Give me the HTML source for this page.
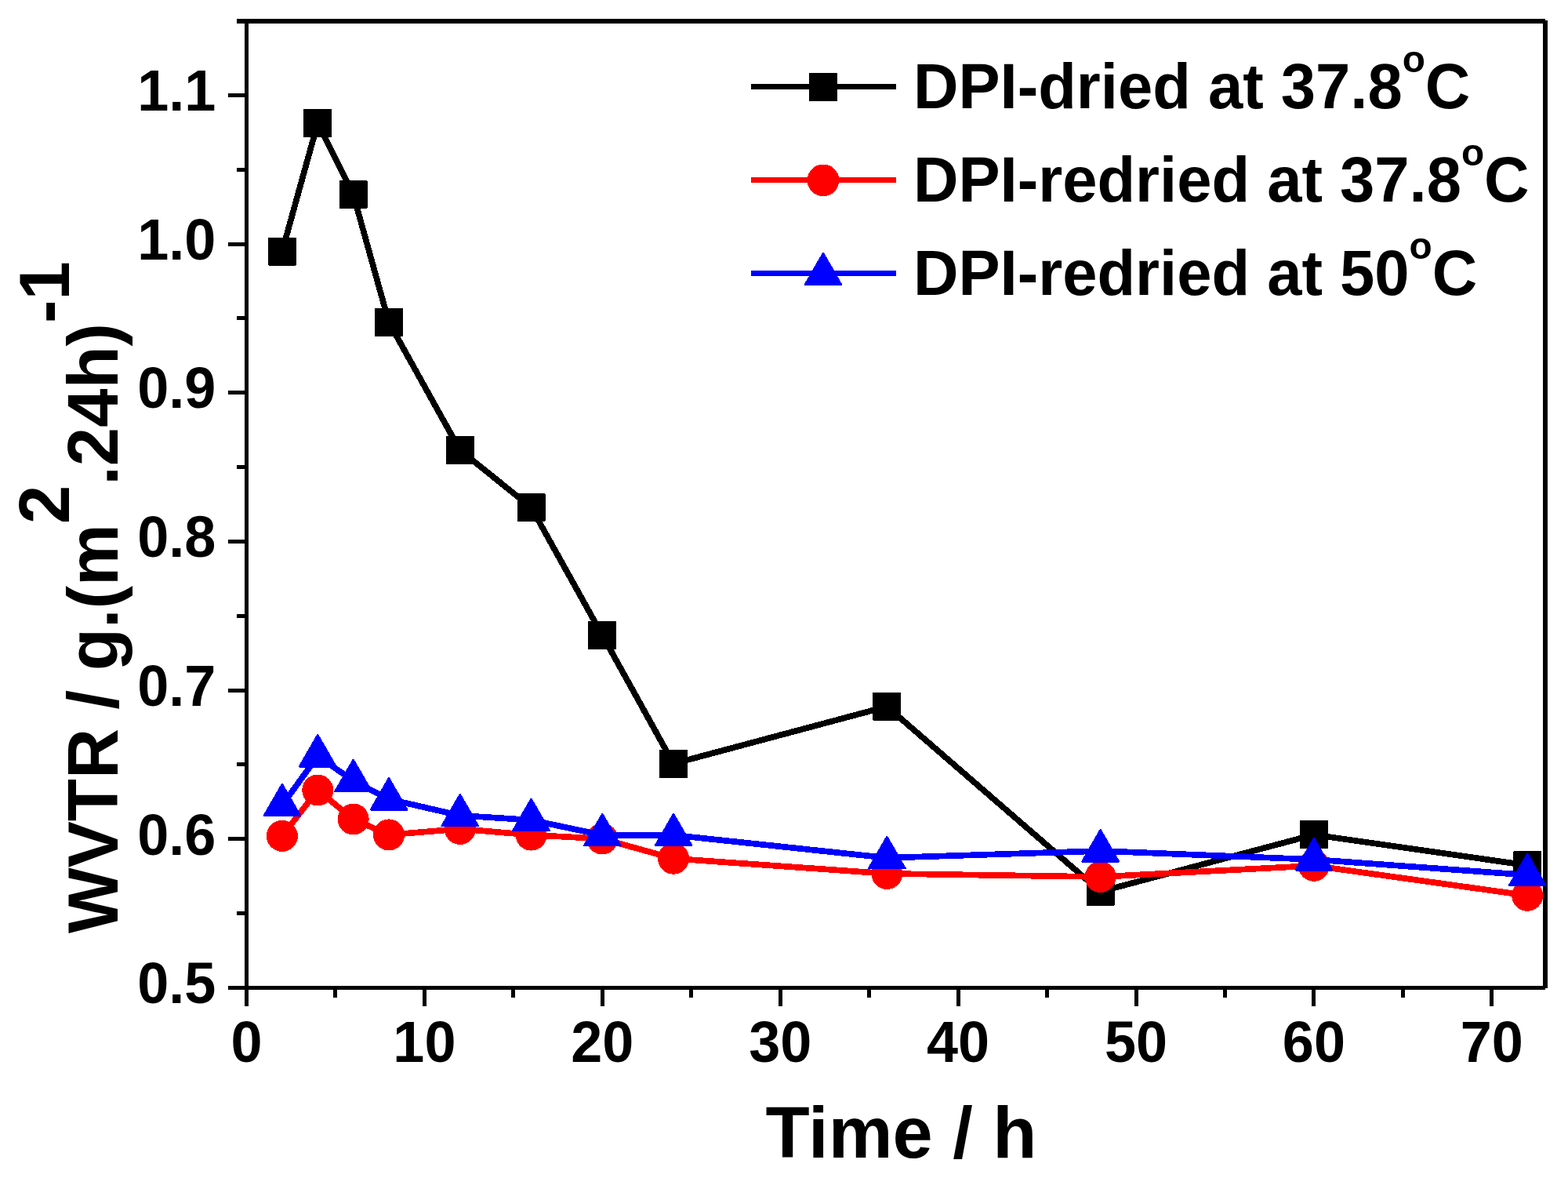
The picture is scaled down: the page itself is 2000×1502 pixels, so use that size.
<!DOCTYPE html>
<html><head><meta charset="utf-8"><title>WVTR vs Time</title>
<style>html,body{margin:0;padding:0;background:#fff;width:2000px;height:1502px;overflow:hidden}svg{display:block}</style>
</head><body><svg width="2000" height="1502" viewBox="0 0 2000 1502" shape-rendering="crispEdges"><rect width="2000" height="1502" fill="#fff"/><g fill="#000"><rect x="312" y="24" width="5" height="1259"/><rect x="302" y="24" width="1669" height="6"/><rect x="1968" y="26" width="6" height="1234"/><rect x="291" y="1257" width="1680" height="5"/><rect x="291" y="1257.00" width="21" height="5"/><rect x="302" y="1162.16" width="10" height="5"/><rect x="291" y="1067.32" width="21" height="5"/><rect x="302" y="972.48" width="10" height="5"/><rect x="291" y="877.64" width="21" height="5"/><rect x="302" y="782.80" width="10" height="5"/><rect x="291" y="687.96" width="21" height="5"/><rect x="302" y="593.12" width="10" height="5"/><rect x="291" y="498.28" width="21" height="5"/><rect x="302" y="403.44" width="10" height="5"/><rect x="291" y="308.60" width="21" height="5"/><rect x="302" y="213.76" width="10" height="5"/><rect x="291" y="118.92" width="21" height="5"/><rect x="312.00" y="1262" width="5" height="21"/><rect x="425.45" y="1262" width="5" height="10"/><rect x="538.90" y="1262" width="5" height="21"/><rect x="652.35" y="1262" width="5" height="10"/><rect x="765.80" y="1262" width="5" height="21"/><rect x="879.25" y="1262" width="5" height="10"/><rect x="992.70" y="1262" width="5" height="21"/><rect x="1106.15" y="1262" width="5" height="10"/><rect x="1219.60" y="1262" width="5" height="21"/><rect x="1333.05" y="1262" width="5" height="10"/><rect x="1446.50" y="1262" width="5" height="21"/><rect x="1559.95" y="1262" width="5" height="10"/><rect x="1673.40" y="1262" width="5" height="21"/><rect x="1786.85" y="1262" width="5" height="10"/><rect x="1900.30" y="1262" width="5" height="21"/></g><text transform="translate(275.30,1279.20) scale(1,1.036)" font-family="Liberation Sans, Arial, sans-serif" font-weight="bold" font-size="72" text-anchor="end">0.5</text><text transform="translate(275.30,1089.52) scale(1,1.036)" font-family="Liberation Sans, Arial, sans-serif" font-weight="bold" font-size="72" text-anchor="end">0.6</text><text transform="translate(275.30,899.84) scale(1,1.036)" font-family="Liberation Sans, Arial, sans-serif" font-weight="bold" font-size="72" text-anchor="end">0.7</text><text transform="translate(275.30,710.16) scale(1,1.036)" font-family="Liberation Sans, Arial, sans-serif" font-weight="bold" font-size="72" text-anchor="end">0.8</text><text transform="translate(275.30,520.48) scale(1,1.036)" font-family="Liberation Sans, Arial, sans-serif" font-weight="bold" font-size="72" text-anchor="end">0.9</text><text transform="translate(275.30,330.80) scale(1,1.036)" font-family="Liberation Sans, Arial, sans-serif" font-weight="bold" font-size="72" text-anchor="end">1.0</text><text transform="translate(275.30,141.12) scale(1,1.036)" font-family="Liberation Sans, Arial, sans-serif" font-weight="bold" font-size="72" text-anchor="end">1.1</text><text transform="translate(314.50,1354.40) scale(1,1.036)" font-family="Liberation Sans, Arial, sans-serif" font-weight="bold" font-size="72" text-anchor="middle">0</text><text transform="translate(541.40,1354.40) scale(1,1.036)" font-family="Liberation Sans, Arial, sans-serif" font-weight="bold" font-size="72" text-anchor="middle">10</text><text transform="translate(768.30,1354.40) scale(1,1.036)" font-family="Liberation Sans, Arial, sans-serif" font-weight="bold" font-size="72" text-anchor="middle">20</text><text transform="translate(995.20,1354.40) scale(1,1.036)" font-family="Liberation Sans, Arial, sans-serif" font-weight="bold" font-size="72" text-anchor="middle">30</text><text transform="translate(1222.10,1354.40) scale(1,1.036)" font-family="Liberation Sans, Arial, sans-serif" font-weight="bold" font-size="72" text-anchor="middle">40</text><text transform="translate(1449.00,1354.40) scale(1,1.036)" font-family="Liberation Sans, Arial, sans-serif" font-weight="bold" font-size="72" text-anchor="middle">50</text><text transform="translate(1675.90,1354.40) scale(1,1.036)" font-family="Liberation Sans, Arial, sans-serif" font-weight="bold" font-size="72" text-anchor="middle">60</text><text transform="translate(1902.80,1354.40) scale(1,1.036)" font-family="Liberation Sans, Arial, sans-serif" font-weight="bold" font-size="72" text-anchor="middle">70</text><text transform="translate(976.57,1475.90) scale(1,1.0)" font-family="Liberation Sans, Arial, sans-serif" font-weight="bold" font-size="92">Time / h</text><text transform="translate(149.9,1190) rotate(-90) scale(0.996,1.015)" font-family="Liberation Sans, Arial, sans-serif" font-weight="bold" font-size="89">WVTR / g.(m<tspan dy="-61.18">2</tspan><tspan dy="61.18">.24h)</tspan><tspan dy="-61.18">-1</tspan></text><polyline points="359.88,320.50 405.26,156.80 450.64,248.00 496.02,411.00 586.78,574.00 677.54,647.00 768.30,810.00 859.06,973.70 1131.34,900.90 1403.62,1136.80 1675.90,1064.30 1948.18,1103.30" fill="none" stroke="#000" stroke-width="7.7" stroke-linejoin="round"/><rect x="342.88" y="303.50" width="34.00" height="34.00" fill="#000" stroke="#000" stroke-width="2" stroke-linejoin="round"/><rect x="388.26" y="139.80" width="34.00" height="34.00" fill="#000" stroke="#000" stroke-width="2" stroke-linejoin="round"/><rect x="433.64" y="231.00" width="34.00" height="34.00" fill="#000" stroke="#000" stroke-width="2" stroke-linejoin="round"/><rect x="479.02" y="394.00" width="34.00" height="34.00" fill="#000" stroke="#000" stroke-width="2" stroke-linejoin="round"/><rect x="569.78" y="557.00" width="34.00" height="34.00" fill="#000" stroke="#000" stroke-width="2" stroke-linejoin="round"/><rect x="660.54" y="630.00" width="34.00" height="34.00" fill="#000" stroke="#000" stroke-width="2" stroke-linejoin="round"/><rect x="751.30" y="793.00" width="34.00" height="34.00" fill="#000" stroke="#000" stroke-width="2" stroke-linejoin="round"/><rect x="842.06" y="956.70" width="34.00" height="34.00" fill="#000" stroke="#000" stroke-width="2" stroke-linejoin="round"/><rect x="1114.34" y="883.90" width="34.00" height="34.00" fill="#000" stroke="#000" stroke-width="2" stroke-linejoin="round"/><rect x="1386.62" y="1119.80" width="34.00" height="34.00" fill="#000" stroke="#000" stroke-width="2" stroke-linejoin="round"/><rect x="1658.90" y="1047.30" width="34.00" height="34.00" fill="#000" stroke="#000" stroke-width="2" stroke-linejoin="round"/><rect x="1931.18" y="1086.30" width="34.00" height="34.00" fill="#000" stroke="#000" stroke-width="2" stroke-linejoin="round"/><polyline points="359.88,1065.90 405.26,1007.50 450.64,1044.50 496.02,1064.40 586.78,1056.90 677.54,1064.60 768.30,1069.50 859.06,1094.70 1131.34,1113.90 1403.62,1118.00 1675.90,1103.80 1948.18,1141.80" fill="none" stroke="#f00" stroke-width="7.7" stroke-linejoin="round"/><circle cx="359.88" cy="1065.90" r="20" fill="#f00"/><circle cx="405.26" cy="1007.50" r="20" fill="#f00"/><circle cx="450.64" cy="1044.50" r="20" fill="#f00"/><circle cx="496.02" cy="1064.40" r="20" fill="#f00"/><circle cx="586.78" cy="1056.90" r="20" fill="#f00"/><circle cx="677.54" cy="1064.60" r="20" fill="#f00"/><circle cx="768.30" cy="1069.50" r="20" fill="#f00"/><circle cx="859.06" cy="1094.70" r="20" fill="#f00"/><circle cx="1131.34" cy="1113.90" r="20" fill="#f00"/><circle cx="1403.62" cy="1118.00" r="20" fill="#f00"/><circle cx="1675.90" cy="1103.80" r="20" fill="#f00"/><circle cx="1948.18" cy="1141.80" r="20" fill="#f00"/><polyline points="359.88,1026.80 405.26,963.90 450.64,995.60 496.02,1019.00 586.78,1039.80 677.54,1045.60 768.30,1064.80 859.06,1064.80 1131.34,1093.80 1403.62,1085.00 1675.90,1095.90 1948.18,1115.70" fill="none" stroke="#00f" stroke-width="7.7" stroke-linejoin="round"/><polygon points="359.88,1000.00 383.09,1040.20 336.67,1040.20" fill="#00f" stroke="#00f" stroke-width="2.4" stroke-linejoin="round"/><polygon points="405.26,937.10 428.47,977.30 382.05,977.30" fill="#00f" stroke="#00f" stroke-width="2.4" stroke-linejoin="round"/><polygon points="450.64,968.80 473.85,1009.00 427.43,1009.00" fill="#00f" stroke="#00f" stroke-width="2.4" stroke-linejoin="round"/><polygon points="496.02,992.20 519.23,1032.40 472.81,1032.40" fill="#00f" stroke="#00f" stroke-width="2.4" stroke-linejoin="round"/><polygon points="586.78,1013.00 609.99,1053.20 563.57,1053.20" fill="#00f" stroke="#00f" stroke-width="2.4" stroke-linejoin="round"/><polygon points="677.54,1018.80 700.75,1059.00 654.33,1059.00" fill="#00f" stroke="#00f" stroke-width="2.4" stroke-linejoin="round"/><polygon points="768.30,1038.00 791.51,1078.20 745.09,1078.20" fill="#00f" stroke="#00f" stroke-width="2.4" stroke-linejoin="round"/><polygon points="859.06,1038.00 882.27,1078.20 835.85,1078.20" fill="#00f" stroke="#00f" stroke-width="2.4" stroke-linejoin="round"/><polygon points="1131.34,1067.00 1154.55,1107.20 1108.13,1107.20" fill="#00f" stroke="#00f" stroke-width="2.4" stroke-linejoin="round"/><polygon points="1403.62,1058.20 1426.83,1098.40 1380.41,1098.40" fill="#00f" stroke="#00f" stroke-width="2.4" stroke-linejoin="round"/><polygon points="1675.90,1069.10 1699.11,1109.30 1652.69,1109.30" fill="#00f" stroke="#00f" stroke-width="2.4" stroke-linejoin="round"/><polygon points="1948.18,1088.90 1971.39,1129.10 1924.97,1129.10" fill="#00f" stroke="#00f" stroke-width="2.4" stroke-linejoin="round"/><rect x="958" y="106.80" width="185" height="7" fill="#000"/><rect x="1033.00" y="93.80" width="34.00" height="34.00" fill="#000" stroke="#000" stroke-width="2" stroke-linejoin="round"/><text transform="translate(1165.06,137.90) scale(0.995,1.015)" font-family="Liberation Sans, Arial, sans-serif" font-weight="bold" font-size="80">DPI-dried at 37.8<tspan font-size="48" dy="-45.02">o</tspan><tspan dy="45.02">C</tspan></text><rect x="958" y="225.90" width="185" height="7" fill="#f00"/><circle cx="1050.00" cy="229.90" r="20.4" fill="#f00"/><text transform="translate(1165.06,257.00) scale(0.995,1.015)" font-family="Liberation Sans, Arial, sans-serif" font-weight="bold" font-size="80">DPI-redried at 37.8<tspan font-size="48" dy="-45.02">o</tspan><tspan dy="45.02">C</tspan></text><rect x="958" y="344.90" width="185" height="7" fill="#00f"/><polygon points="1050.00,322.90 1073.21,363.10 1026.79,363.10" fill="#00f" stroke="#00f" stroke-width="2.4" stroke-linejoin="round"/><text transform="translate(1165.06,376.00) scale(0.995,1.015)" font-family="Liberation Sans, Arial, sans-serif" font-weight="bold" font-size="80">DPI-redried at 50<tspan font-size="48" dy="-45.02">o</tspan><tspan dy="45.02">C</tspan></text></svg></body></html>
